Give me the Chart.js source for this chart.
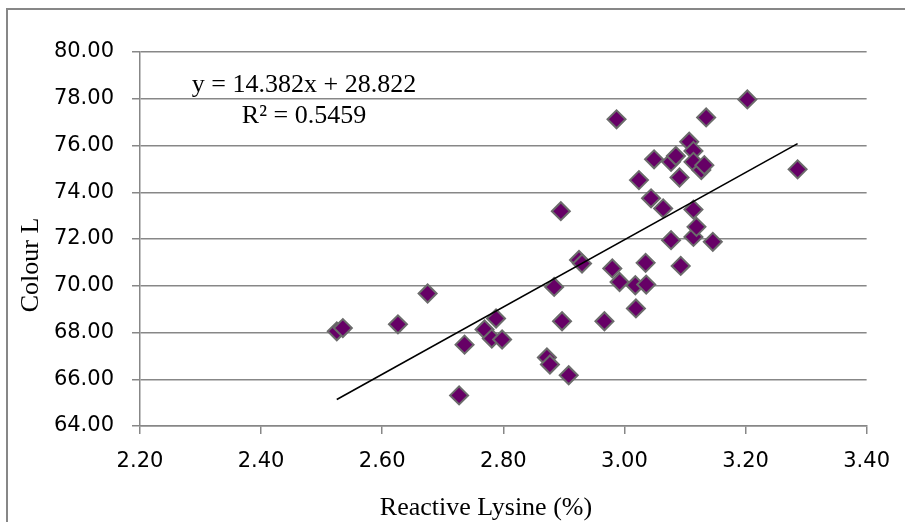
<!DOCTYPE html>
<html>
<head>
<meta charset="utf-8">
<script src="https://cdn.jsdelivr.net/npm/chart.js@4.4.1/dist/chart.umd.min.js"></script>
<style>
  html, body { margin: 0; padding: 0; background: #fff; }
  canvas { display: block; }
</style>
</head>
<body>
<canvas id="lysineChart" width="905" height="522"></canvas>
<script>
// Reactive lysine (%) vs colour L
const lysine = [2.525, 2.535, 2.626, 2.675, 2.727, 2.736, 2.769, 2.781, 2.788, 2.798,
                2.872, 2.877, 2.884, 2.895, 2.897, 2.908, 2.925, 2.930, 2.967, 2.980,
                2.987, 2.992, 3.018, 3.019, 3.024, 3.035, 3.036, 3.044, 3.049, 3.064,
                3.077, 3.077, 3.085, 3.091, 3.093, 3.107, 3.114, 3.114, 3.114, 3.114,
                3.119, 3.127, 3.132, 3.135, 3.146, 3.203, 3.286];
const colourL = [68.05, 68.19, 68.35, 69.67, 65.31, 67.48, 68.13, 67.74, 68.60, 67.70,
                 66.93, 66.63, 69.95, 73.19, 68.48, 66.17, 71.10, 70.95, 68.48, 70.74,
                 77.12, 70.16, 70.02, 69.03, 74.52, 70.98, 70.05, 73.74, 75.41, 73.31,
                 75.30, 71.95, 75.55, 74.63, 70.85, 76.16, 75.77, 75.30, 73.26, 72.09,
                 72.52, 74.95, 75.16, 77.20, 71.88, 77.97, 74.98];

// trendline from the equation shown on the chart
const slope = 14.382;
const intercept = 28.822;
const equationText = ['y = 14.382x + 28.822', 'R\u00B2 = 0.5459'];

const xTicks = [2.2, 2.4, 2.6, 2.8, 3.0, 3.2, 3.4];
const yTicks = [64, 66, 68, 70, 72, 74, 76, 78, 80];

const xTitle = 'Reactive Lysine (%)';
const yTitle = 'Colour L';

const points = lysine.map((x, i) => ({ x: x, y: colourL[i] }));
const xMin = Math.min(...lysine);
const xMax = Math.max(...lysine);
const trend = [xMin, xMax].map(x => ({ x: x, y: slope * x + intercept }));

const gridGrey = '#878787';
const serif = '"Liberation Serif", "Times New Roman", serif';

// white page and the frame that is cut off at the right and bottom
const framePlugin = {
    id: 'frame',
    beforeDraw(chart) {
        const c = chart.ctx;
        c.save();
        c.fillStyle = '#fff';
        c.fillRect(0, 0, chart.width, chart.height);
        c.strokeStyle = gridGrey;
        c.lineWidth = 2;
        c.strokeRect(7, 9, chart.width + 20, chart.height + 20);
        c.restore();
    }
};

// axis titles and the equation box
const textPlugin = {
    id: 'texts',
    afterDraw(chart) {
        const c = chart.ctx;
        const a = chart.chartArea;
        c.save();
        c.fillStyle = '#000';
        c.font = '26px ' + serif;
        c.textAlign = 'center';
        c.textBaseline = 'alphabetic';
        c.fillText(xTitle, a.left + 346, a.bottom + 89);
        c.fillText(equationText[0], a.left + 164, a.top + 40);
        c.fillText(equationText[1], a.left + 164, a.top + 71);

        c.translate(38, a.top + 213);
        c.rotate(-Math.PI / 2);
        c.fillText(yTitle, 0, 0);
        c.restore();
    }
};

const ctx = document.getElementById('lysineChart').getContext('2d');

const lysineChart = new Chart(ctx, {
    type: 'scatter',
    data: {
        datasets: [{
            data: points,
            order: 1,
            pointStyle: 'rectRot',
            pointRadius: 9,
            pointHoverRadius: 9,
            backgroundColor: '#660066',
            borderColor: '#6b6b6b',
            borderWidth: 2
        }, {
            data: trend,
            order: 0,
            showLine: true,
            pointRadius: 0,
            borderColor: '#000',
            borderWidth: 1.6,
            fill: false
        }]
    },
    options: {
        responsive: false,
        animation: false,
        layout: { padding: { top: 52, right: 38, left: 0, bottom: 0 } },
        plugins: {
            legend: { display: false },
            tooltip: { enabled: false }
        },
        scales: {
            x: {
                type: 'linear',
                min: xTicks[0],
                max: xTicks[xTicks.length - 1],
                afterBuildTicks: s => { s.ticks = xTicks.map(v => ({ value: v })); },
                afterFit: s => { s.height = 96; },
                grid: {
                    drawOnChartArea: false,
                    drawTicks: true,
                    tickLength: 8,
                    color: gridGrey,
                    lineWidth: 1.5
                },
                border: { color: gridGrey, width: 1.5 },
                ticks: {
                    padding: 15,
                    color: '#000',
                    font: { family: '"DejaVu Sans", sans-serif', size: 21 },
                    callback: v => Number(v).toFixed(2)
                }
            },
            y: {
                type: 'linear',
                min: yTicks[0],
                max: yTicks[yTicks.length - 1],
                afterBuildTicks: s => { s.ticks = yTicks.map(v => ({ value: v })); },
                afterFit: s => { s.width = 140; },
                grid: {
                    color: gridGrey,
                    lineWidth: 1.5,
                    tickLength: 8
                },
                border: { color: gridGrey, width: 1.5 },
                ticks: {
                    padding: 18,
                    color: '#000',
                    font: { family: '"DejaVu Sans", sans-serif', size: 21 },
                    callback: v => Number(v).toFixed(2)
                }
            }
        }
    },
    plugins: [framePlugin, textPlugin]
});
</script>
</body>
</html>
